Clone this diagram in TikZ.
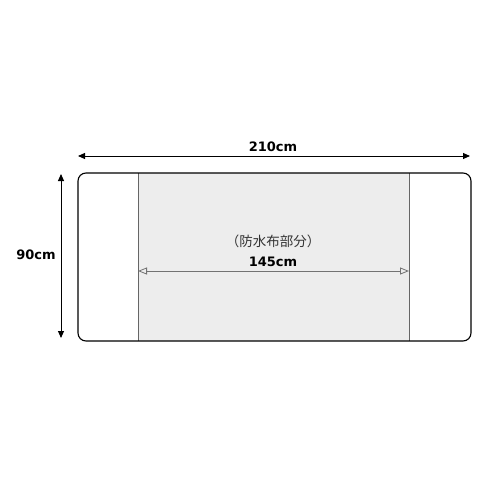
\documentclass[tikz,border=0pt]{standalone}
\usepackage{fontspec}
\setmainfont{DejaVu Sans}
\newfontfamily\cjk{Noto Sans CJK JP}
\usetikzlibrary{arrows.meta}

\begin{document}
\begin{tikzpicture}[x=1pt, y=-1pt,
    dimline/.style={line width=0.9pt, {Triangle[length=7pt,width=6pt]}-{Triangle[length=7pt,width=6pt]}},
    innerdim/.style={draw=black!55, line width=0.8pt, {Triangle[open,length=9pt,width=7pt]}-{Triangle[open,length=9pt,width=7pt]}},
    dimlabel/.style={font=\fontsize{13}{15}\selectfont\bfseries}]
  \useasboundingbox[fill=white] (0,0) rectangle (500,500);
  % waterproof middle part
  \fill[black!7] (138,173) rectangle (409,341);
  \draw[black!60, line width=0.9pt] (138,173) -- (138,341);
  \draw[black!60, line width=0.9pt] (409,173) -- (409,341);
  % outline of the sheet
  \draw[line width=1.1pt, rounded corners=8pt] (78,173) rectangle (471,341);
  % outer dimensions
  \coordinate (wl) at (78,156);
  \coordinate (wr) at (470,156);
  \draw[dimline] (wl) -- (wr);
  \node[dimlabel] (wlab) at (273,147) {210cm};
  \coordinate (ht) at (61,174);
  \coordinate (hb) at (61,338);
  \draw[dimline] (ht) -- (hb);
  \node[dimlabel] (hlab) at (36,255) {90cm};
  % inner dimension
  \coordinate (il) at (138,271);
  \coordinate (ir) at (409,271);
  \draw[innerdim] (il) -- (ir);
  \node[dimlabel] (ilab) at (273,262) {145cm};
  \node[font=\fontsize{13.5}{15}\selectfont\cjk, text=black!80] (part) at (273,241) {（防水布部分）};
\end{tikzpicture}
\end{document}
